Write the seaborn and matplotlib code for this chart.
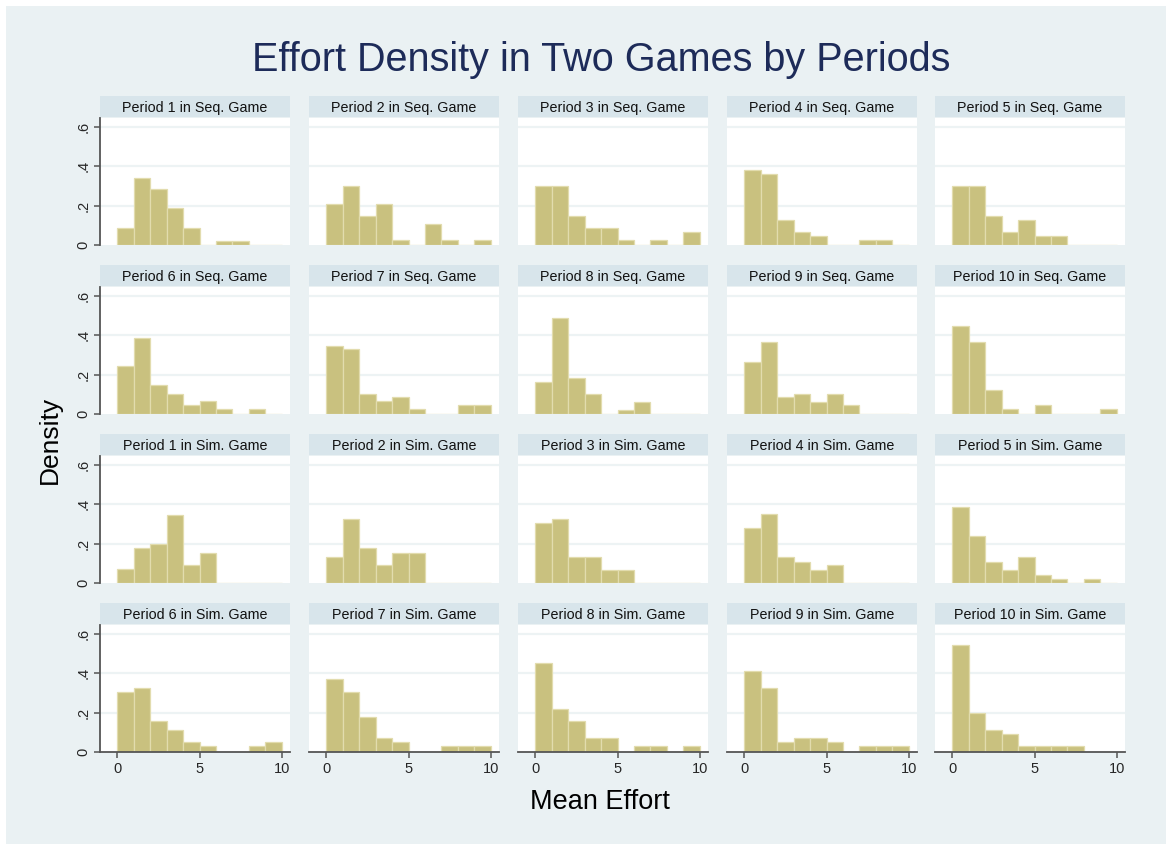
import numpy as np
import pandas as pd
import matplotlib
matplotlib.use("Agg")
import matplotlib.pyplot as plt
from matplotlib.patches import Rectangle
import seaborn as sns

# Density of mean effort per unit-width bin (0-1, 1-2, ..., 9-10)
bin_edges = list(range(0, 11))
periods = list(range(1, 11))
games = ["Seq.", "Sim."]

seq_density = [
    [0.085, 0.342, 0.283, 0.186, 0.085, 0.0, 0.022, 0.022, 0.0, 0.0],
    [0.208, 0.302, 0.147, 0.208, 0.025, 0.0, 0.107, 0.025, 0.0, 0.025],
    [0.302, 0.302, 0.147, 0.086, 0.086, 0.025, 0.0, 0.025, 0.0, 0.066],
    [0.381, 0.363, 0.125, 0.064, 0.046, 0.0, 0.0, 0.024, 0.024, 0.0],
    [0.302, 0.302, 0.147, 0.064, 0.125, 0.046, 0.046, 0.0, 0.0, 0.0],
    [0.244, 0.387, 0.145, 0.104, 0.044, 0.064, 0.024, 0.0, 0.024, 0.0],
    [0.346, 0.328, 0.104, 0.064, 0.084, 0.024, 0.0, 0.0, 0.044, 0.044],
    [0.165, 0.487, 0.185, 0.104, 0.0, 0.022, 0.062, 0.0, 0.0, 0.0],
    [0.266, 0.366, 0.084, 0.104, 0.062, 0.104, 0.044, 0.0, 0.0, 0.0],
    [0.445, 0.366, 0.124, 0.024, 0.0, 0.044, 0.0, 0.0, 0.0, 0.024],
]

sim_density = [
    [0.071, 0.180, 0.200, 0.346, 0.091, 0.151, 0.0, 0.0, 0.0, 0.0],
    [0.131, 0.326, 0.180, 0.091, 0.151, 0.151, 0.0, 0.0, 0.0, 0.0],
    [0.307, 0.327, 0.131, 0.131, 0.068, 0.068, 0.0, 0.0, 0.0, 0.0],
    [0.279, 0.348, 0.131, 0.109, 0.068, 0.089, 0.0, 0.0, 0.0, 0.0],
    [0.388, 0.239, 0.109, 0.068, 0.131, 0.041, 0.020, 0.0, 0.020, 0.0],
    [0.305, 0.325, 0.157, 0.110, 0.050, 0.030, 0.0, 0.0, 0.030, 0.050],
    [0.372, 0.305, 0.179, 0.070, 0.050, 0.0, 0.0, 0.030, 0.030, 0.030],
    [0.454, 0.218, 0.158, 0.070, 0.070, 0.0, 0.030, 0.030, 0.0, 0.030],
    [0.413, 0.326, 0.050, 0.070, 0.070, 0.050, 0.0, 0.030, 0.030, 0.030],
    [0.543, 0.198, 0.111, 0.091, 0.030, 0.030, 0.030, 0.030, 0.0, 0.0],
]

y_ticks = [0, 0.2, 0.4, 0.6]
y_tick_labels = ["0", ".2", ".4", ".6"]
x_ticks = [0, 5, 10]
x_tick_labels = ["0", "5", "10"]

# Long table: one row per bin per panel
rows = []
for game, table in zip(games, [seq_density, sim_density]):
    for p, dens in zip(periods, table):
        for lo, d in zip(bin_edges[:-1], dens):
            rows.append({"game": game, "period": p, "mid": lo + 0.5, "density": d})
df = pd.DataFrame(rows)

sns.set_theme(style="white")
plt.rcParams["font.family"] = ["Liberation Sans", "DejaVu Sans"]

W, H = 1166, 844
fig = plt.figure(figsize=(W / 100, H / 100), dpi=100, facecolor="white")

BG = "#EAF1F3"
STRIP = "#D8E5EB"
BAR = "#C9C17F"
BAR_EDGE = "#E2DCAE"
GRID = "#EDF3F4"
NAVY = "#1D2B59"

# Figure background panel
fig.patches.append(Rectangle((6 / W, 0), 1, 1 - 6 / H, transform=fig.transFigure,
                             facecolor=BG, edgecolor="none", zorder=-10))

def px_rect(left, top, width, height):
    return [left / W, 1 - (top + height) / H, width / W, height / H]

col_left = [100, 309, 518, 727, 935]
panel_w = 190
strip_top = [96, 265, 434, 603]
strip_h = 21
plot_h = 127

panel_list = [(g, p) for g in games for p in periods]
for idx, (game, period) in enumerate(panel_list):
    r, c = divmod(idx, 5)
    left = col_left[c]
    top = strip_top[r]
    ax = fig.add_axes(px_rect(left, top + strip_h + 1, panel_w, plot_h))
    ax.set_facecolor("white")
    sub = df[(df.game == game) & (df.period == period)]
    sns.histplot(data=sub, x="mid", weights="density", bins=bin_edges, stat="count",
                 color=BAR, edgecolor=BAR_EDGE, linewidth=0.9, alpha=1.0, ax=ax)
    ax.set_xlim(-1.05, 10.5)
    ax.set_ylim(0, 0.645)
    ax.set_xlabel("")
    ax.set_ylabel("")
    for y in y_ticks[1:]:
        ax.axhline(y, color=GRID, lw=1.6, zorder=0)
    for s in ax.spines.values():
        s.set_visible(False)
    ax.set_yticks(y_ticks)
    ax.set_xticks(x_ticks)
    if c == 0:
        ax.spines["left"].set_visible(True)
        ax.spines["left"].set_color("#555555")
        ax.spines["left"].set_linewidth(1.3)
        ax.set_yticklabels(y_tick_labels, rotation=90, va="center", fontsize=10.5)
        ax.tick_params(axis="y", left=True, length=4, width=1.1, color="#555555", pad=3)
    else:
        ax.tick_params(axis="y", left=False, labelleft=False)
    if r == 3:
        ax.spines["bottom"].set_visible(True)
        ax.spines["bottom"].set_color("#555555")
        ax.spines["bottom"].set_linewidth(1.3)
        ax.set_xticklabels(x_tick_labels, fontsize=10.5)
        ax.tick_params(axis="x", bottom=True, length=4, width=1.1, color="#555555", pad=3)
    else:
        ax.tick_params(axis="x", bottom=False, labelbottom=False)

    sax = fig.add_axes(px_rect(left, top, panel_w, strip_h))
    sax.set_facecolor(STRIP)
    sax.set_xticks([])
    sax.set_yticks([])
    for s in sax.spines.values():
        s.set_visible(False)
    sax.text(0.5, 0.45, f"Period {period} in {game} Game", ha="center", va="center",
             fontsize=10.3, color="#111111", transform=sax.transAxes)

fig.text(601 / W, 1 - 60 / H, "Effort Density in Two Games by Periods", ha="center",
         va="center", fontsize=28.5, color=NAVY)
fig.text(50 / W, 1 - 440 / H, "Density", ha="center", va="center", rotation=90,
         fontsize=19, color="black")
fig.text(600 / W, 1 - 802 / H, "Mean Effort", ha="center", va="center",
         fontsize=19.5, color="black")

fig.savefig("out.png", dpi=100, facecolor="white")
